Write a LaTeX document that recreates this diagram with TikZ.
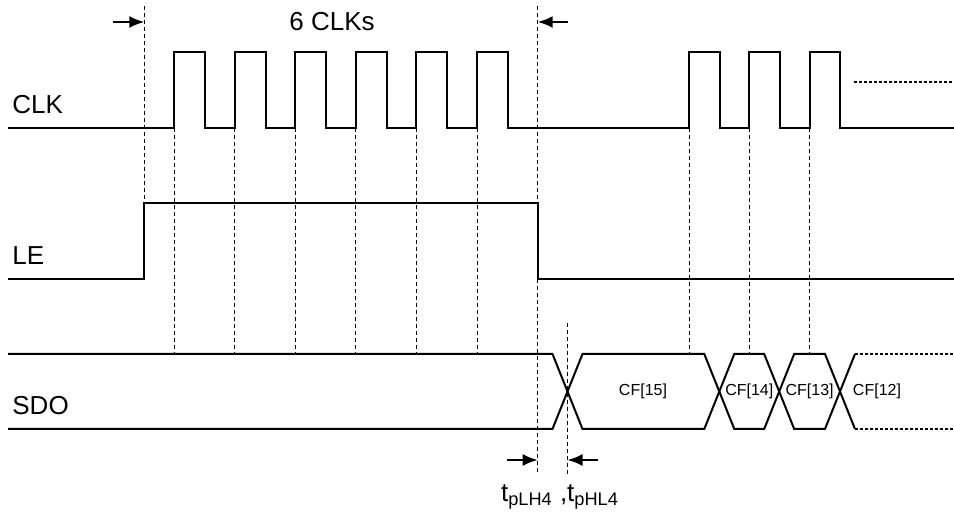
\documentclass[tikz,border=0pt]{standalone}
\usepackage{fontspec}
\setmainfont{Liberation Sans}
\usetikzlibrary{arrows.meta}

\tikzset{
  sig/.style={line width=1pt},
  guide/.style={line width=0.5pt, dash pattern=on 2pt off 1.5pt},
  ext/.style={line width=0.8pt, dash pattern=on 1.5pt off 1pt},
  lbl/.style={font=\fontsize{13pt}{15pt}\selectfont, inner sep=1pt},
  cf/.style={font=\fontsize{8pt}{9pt}\selectfont, inner sep=0pt},
}

\begin{document}
\begin{tikzpicture}[>={Latex[length=7.5pt,width=6pt]}, x=0.5pt, y=-0.5pt]
        \useasboundingbox (0,0) rectangle (954,517);
        \node[lbl, anchor=west] (clk) at (10,105) {CLK};
        \node[lbl, anchor=west] (le) at (10,256) {LE};
        \node[lbl, anchor=west] (sdo) at (10,406) {SDO};
        \node[lbl] (nclk) at (332,22) {6 CLKs};
        \node[lbl] (tp) at (560,497) {t\textsubscript{pLH4} ,t\textsubscript{pHL4}};
        % guides
        \foreach \x in {174,234.6,295.2,355.8,416.4,477,689,749.3,809.7}
            \draw[guide] (\x,128) -- (\x,354);
        \draw[guide] (144.3,6) -- (144.3,203);
        \draw[guide] (537.7,6) -- (537.7,475);
        \draw[guide] (567.5,323) -- (567.5,475);
        % CLK
        \draw[sig] (8,128)
            foreach \x in {174,234.6,295.2,355.8,416.4,477}
                {-- (\x,128) -- (\x,52) -- ({\x+31},52) -- ({\x+31},128)}
            foreach \x in {689,749.3,809.7}
                {-- (\x,128) -- (\x,52) -- ({\x+30.5},52) -- ({\x+30.5},128)}
            -- (954,128);
        \draw[line width=1.4pt] (658,128) -- (678,128);
        \draw[ext] (854,82) -- (954,82);
        % LE
        \draw[sig] (8,279) -- (144.3,279) -- (144.3,203) -- (537.7,203)
            -- (537.7,279) -- (954,279);
        % SDO
        \draw[sig] (8,354) -- (552.5,354) -- (582.5,429) -- (704.3,429)
            -- (734.3,354) -- (764.2,354) -- (794.2,429) -- (825,429) -- (855,354);
        \draw[sig] (8,429) -- (552.5,429) -- (582.5,354) -- (704.3,354)
            -- (734.3,429) -- (764.2,429) -- (794.2,354) -- (825,354) -- (855,429);
        \draw[ext] (855,354) -- (954,354);
        \draw[ext] (855,429) -- (954,429);
        \node[cf] (cf15) at (643,391.5) {CF[15]};
        \node[cf] (cf14) at (749.3,391.5) {CF[14]};
        \node[cf] (cf13) at (809.6,391.5) {CF[13]};
        \node[cf] (cf12) at (877,391.5) {CF[12]};
        % timing arrows
        \draw[->, line width=1pt] (113,22) -- (144.3,22);
        \draw[->, line width=1pt] (568,22) -- (537.7,22);
        \draw[->, line width=1pt] (506.7,460) -- (537.7,460);
        \draw[->, line width=1pt] (598,460) -- (567.5,460);
\end{tikzpicture}
\end{document}
